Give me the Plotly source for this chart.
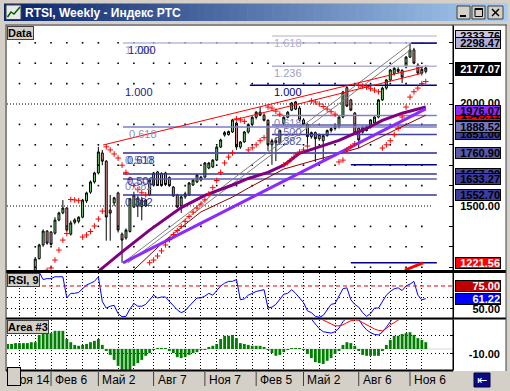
import plotly.graph_objects as go

W, H = 510, 391
def fx(px): return px / W
def fy(py): return 1 - py / H

# ---------------- data ----------------
weeks = list(range(108))
opens = [1020,1035,1050,1062,1082,1095,1110,1125,1165,1242,
 1309,1377,1372,1367,1431,1466,1490,1362,1420,1425,
 1445,1525,1568,1618,1662,1760,1720,1480,1515,1564,
 1362,1343,1375,1495,1500,1497,1500,1554,1603,1667,
 1660,1662,1640,1593,1554,1500,1545,1554,1603,1618,
 1627,1642,1686,1691,1725,1789,1848,1850,1863,1907,
 1789,1814,1863,1900,1935,1960,1945,1920,1800,1820,
 1810,1905,1935,1970,1975,1980,1922,1900,1840,1860,
 1830,1820,1845,1870,1880,1887,1936,2080,2020,1956,
 1882,1862,1870,1887,1907,1936,2020,2078,2118,2150,
 2170,2165,2181,2230,2265,2191,2152,2160]
highs = [1045,1060,1070,1090,1100,1120,1135,1165,1250,1315,
 1385,1382,1378,1445,1472,1529,1495,1428,1440,1450,
 1535,1570,1625,1668,1790,1775,1725,1554,1545,1570,
 1370,1390,1540,1570,1550,1545,1535,1630,1667,1672,
 1665,1668,1645,1598,1560,1555,1570,1618,1632,1656,
 1648,1716,1716,1730,1795,1830,1868,1870,1927,1912,
 1818,1868,1905,1940,1965,1985,1955,1925,1830,1835,
 1875,1940,1965,2010,2015,1990,1930,1905,1865,1865,
 1855,1850,1875,1885,1895,1940,2065,2092.85,2025,1960,
 1885,1890,1895,1925,1940,2025,2085,2122,2172,2180,
 2180,2170,2235,2298.47,2275,2200,2185,2190]
lows = [1010,1025,1040,1055,1070,1085,1100,1120,1160,1238,
 1300,1310,1305,1360,1425,1460,1375,1355,1410,1415,
 1440,1515,1560,1610,1655,1700,1330,1330,1500,1370,
 1221.56,1335,1370,1490,1446,1430,1495,1550,1600,1598,
 1595,1598,1595,1545,1490,1466,1535,1550,1598,1612,
 1620,1638,1680,1686,1720,1784,1840,1845,1858,1775,
 1780,1810,1855,1890,1925,1940,1915,1770,1701.8,1720,
 1800,1900,1930,1965,1970,1915,1895,1789,1830,1716,
 1820,1716,1840,1860,1870,1880,1930,1985,1965,1850,
 1784,1855,1865,1880,1900,1930,2015,2070,2110,2140,
 2150,2103,2175,2225,2195,2145,2140,2150]
closes = [1035,1050,1062,1082,1095,1110,1125,1155,1240,1309,
 1377,1318,1312,1431,1466,1490,1382,1417,1432,1445,
 1529,1564,1618,1662,1765,1720,1446,1465,1540,1382,
 1333,1382,1535,1554,1539,1530,1529,1627,1662,1600,
 1600,1605,1600,1549,1495,1545,1560,1613,1627,1652,
 1642,1711,1711,1725,1789,1824,1860,1865,1922,1789,
 1814,1863,1900,1935,1960,1945,1920,1800,1820,1810,
 1870,1935,1960,2005,2010,1922,1900,1840,1860,1830,
 1850,1845,1870,1880,1890,1936,2059,1990,1970,1858,
 1824,1887,1890,1922,1936,2020,2078,2118,2167,2175,
 2160,2132,2230,2265,2200,2152,2170,2177.07]
sar = [960,975,990,1005,1020,1040,1060,1080,1110,1140,
 1170,1185,1196,1235,1284,1333,1365,1532,1530,1526,
 1348,1358,1375,1402,1436,1475,1790,1775,1755,1735,
 1700,1665,1630,1600,1580,1565,1555,1222,1235,1255,
 1280,1309,1335,1360,1380,1400,1425,1448,1470,1490,
 1510,1530,1560,1590,1625,1665,1711,1740,1760,1927,
 1922,1915,1775,1785,1800,1820,1835,1985,1980,1965,
 1950,1702,1712,1730,1750,1765,1775,1794,2015,2010,
 2000,1988,1975,1962,1950,1716,1725,1775,1790,1805,
 2092,2088,2082,2075,2068,2060,1784,1800,1820,1850,
 1880,1936,1985,2034,2060,2078,2100,2110]
rsi = [75,75,76,77,78,79,80,82,85,90,
 82,83,83,85,85,85,62,67,67,68,
 72,76,78,80,85,58,51,53,54,45,
 41.6,42,50,56,53,53,55,60,65,62,
 63,63,58,54,49,46,48,53,58,62,
 62,64,67,65,70,75,78,80,80,82,
 60,61,65,67,69,70,71,51,52,55,
 60,66,67,71,67,62,57,48,46,42,
 41,43,49,55,56,64,72,73,60,55,
 52,46,42,45,51,51,58,65,69,72,
 73,70,75,77,80,65,60,61.22]
hist = [9,11,11,13,13,13,13,15,15,31,
 37,37,35,40,40,40,22,15,9,7,
 9,11,15,18,22,9,-4,-13,-24,-37,
 -46,-46,-46,-37,-31,-24,-15,-9,-2,1,
 1,1,-4,-9,-18,-20,-18,-13,-9,-7,
 -2,-2,4,7,11,22,29,29,31,24,
 13,11,9,7,7,7,4,-2,-9,-15,
 -13,-7,-2,2,2,1,-2,-11,-20,-29,
 -31,-33,-26,-20,-11,-4,9,15,13,7,
 -4,-13,-15,-15,-15,-15,-4,9,20,29,
 29,33,35,37,31,24,20,15]

ma_purple_weeks = [20, 24, 30, 37, 45, 51, 58, 62, 67, 71, 75, 80, 85, 88, 92, 96, 101, 107]
ma_purple_vals = [1120, 1180, 1275, 1382, 1492, 1552, 1603, 1635, 1665, 1700, 1758, 1790, 1822, 1848, 1880, 1920, 1955, 1985]
ma_darkred_weeks = [31, 33, 41, 50, 58, 62, 71, 79, 90, 100, 107]
ma_darkred_vals = [1150, 1186, 1333, 1471, 1544, 1588, 1681, 1725, 1784, 1880, 1945.11]
trend_violet_weeks = [30.24, 107]
trend_violet_vals = [1221.56, 1976.07]
fan_gray1_weeks = [30.24, 103.3]
fan_gray1_vals = [1221.56, 2298.47]
fan_gray2_weeks = [31.5, 103.3]
fan_gray2_vals = [1221.56, 2268]
red_chan1_weeks = [25.2, 106.3]
red_chan1_vals = [1799, 2181]
red_chan2_weeks = [58, 106.3]
red_chan2_vals = [1920, 2152]
red_low_weeks = [101.7, 106.3]
red_low_vals = [1186, 1221.56]

stoch_blue_weeks = list(range(76, 101))
stoch_blue = [80,72,66,55,45,38,36,35,38,46,60,70,78,75,66,52,42,36,32,31,37,48,62,72,80]
stoch_red_weeks = list(range(78, 104))
stoch_red = [80,72,68,64,60,55,51,51,53,58,62,64,63,58,53,48,44,41,40,45,53,58,64,70,76,82]

fib_low = 1221.56
fibA_high = 2092.85
fibB_high = 2298.47
fibC_low = 1701.8
fibC_high = 2092.4
fibAB_start, fibC_start, fib_end = 30.24, 68.0, 109.8
ref_lines = [(1221.56, 88.0), (1701.8, 88.0), (2298.47, 103.3)]

month_weeks = [4, 8, 12, 16, 20, 24, 29, 33, 38, 42, 46, 50, 54, 59, 63, 67, 71, 76, 80, 84, 89, 93, 98, 102, 106]
grid_prices = [1200, 1300, 1400, 1600, 1700, 1800, 1900, 2100, 2200, 2300]
date_weeks = [0, 12, 24, 38, 51, 64, 76, 90, 103]
date_labels = ["Ноя 14", "Фев 6", "Май 2", "Авг 7", "Ноя 7", "Фев 5", "Май 2", "Авг 6", "Ноя 6"]

X_RANGE = [0.836, 113.9]
Y_MAIN = [1181.4, 2382.4]
Y_RSI = [40.2, 89.1]
Y_AREA = [-46.2, 63.8]
FONT = "Liberation Sans"
PX_L, PX_R = 7, 453
def week_px(w):
    return PX_L + (w - X_RANGE[0]) * (PX_R - PX_L) / (X_RANGE[1] - X_RANGE[0])

fig = go.Figure()

def line(xs, ys, color, width=1, dash=None, ax=('x', 'y')):
    fig.add_trace(go.Scatter(x=xs, y=ys, mode='lines', line=dict(color=color, width=width, dash=dash),
                             hoverinfo='skip', xaxis=ax[0], yaxis=ax[1]))

# grid dots in price panel
gx = [m for p in grid_prices for m in month_weeks]
gy = [p for p in grid_prices for m in month_weeks]
fig.add_trace(go.Scatter(x=gx, y=gy, mode='markers', hoverinfo='skip',
                         marker=dict(symbol='square', size=1.6, color='black', line=dict(width=0))))

# fibonacci lines
fibA = [(0.382, '#34349A'), (0.5, '#34349A'), (0.618, '#34349A')]
fibB = [(0.382, '#5C5CB0'), (0.5, '#5C5CB0'), (0.618, '#7C7CC4'), (1.0, '#B8B8DC')]
fibC = [(0.382, '#40409E'), (0.5, '#5C5CB0'), (0.618, '#8080C4'), (1.0, '#000080'), (1.236, '#B4B4D0'), (1.618, '#C8C8E0')]
for r, c in fibA:
    p = fib_low + r * (fibA_high - fib_low)
    line([fibAB_start, fib_end], [p, p], c, 1.5)
for r, c in fibB:
    p = fib_low + r * (fibB_high - fib_low)
    line([fibAB_start, fib_end], [p, p], c, 1.5)
for r, c in fibC:
    p = fibC_low + r * (fibC_high - fibC_low)
    start = 62.4 if r == 1.0 else fibC_start
    line([start, fib_end], [p, p], c, 1.5)
for p, s in ref_lines:
    line([s, fib_end], [p, p], '#000080', 1.5)

# fan / channel lines
line(fan_gray1_weeks, fan_gray1_vals, '#808080', 1)
line(fan_gray2_weeks, fan_gray2_vals, '#808080', 1)

# candles
fig.add_trace(go.Candlestick(x=weeks, open=opens, high=highs, low=lows, close=closes,
    increasing=dict(fillcolor='#7EDC7E', line=dict(color='black', width=1)),
    decreasing=dict(fillcolor='#E89A9A', line=dict(color='black', width=1)),
    whiskerwidth=0, hoverinfo='skip', xaxis='x', yaxis='y'))

line(ma_darkred_weeks, ma_darkred_vals, '#8B0000', 1)
line(ma_purple_weeks, ma_purple_vals, '#800080', 3)
line(trend_violet_weeks, trend_violet_vals, '#8A2BFF', 3)
line(red_chan1_weeks, red_chan1_vals, '#FF0000', 1)
line(red_chan2_weeks, red_chan2_vals, '#FF0000', 1)
line(red_low_weeks, red_low_vals, '#FF0000', 3)

fig.add_trace(go.Scatter(x=weeks, y=sar, mode='markers', hoverinfo='skip',
                         marker=dict(symbol='cross-thin', size=4, color='#FF0000',
                                     line=dict(color='#FF0000', width=1))))

# RSI panel
line(weeks, rsi, '#0000FF', 1, ax=('x2', 'y2'))

# Area panel
fig.add_trace(go.Bar(x=weeks, y=hist, width=0.72, marker=dict(color='#008000', line=dict(width=0)),
                     hoverinfo='skip', xaxis='x3', yaxis='y3'))
line(stoch_blue_weeks, stoch_blue, '#0000FF', 1, ax=('x3', 'y3'))
line(stoch_red_weeks, stoch_red, '#FF0000', 1, ax=('x3', 'y3'))

# ---------------- layout ----------------
dom_x = [fx(PX_L), fx(PX_R)]
common_x = dict(domain=dom_x, range=X_RANGE, showticklabels=False, zeroline=False, ticks='', showline=False)
fig.update_layout(
    width=W, height=H, margin=dict(l=0, r=0, t=0, b=0),
    paper_bgcolor='#D4D0C8', plot_bgcolor='white', showlegend=False, hovermode=False,
    xaxis=dict(**common_x, anchor='y', showgrid=False, rangeslider=dict(visible=False)),
    xaxis2=dict(**common_x, anchor='y2', matches='x', showgrid=True, tickvals=month_weeks,
                gridcolor='black', gridwidth=1, griddash='1px,2px'),
    xaxis3=dict(**common_x, anchor='y3', matches='x', showgrid=True, tickvals=month_weeks,
                gridcolor='black', gridwidth=1, griddash='1px,2px'),
    yaxis=dict(domain=[fy(271), fy(26)], range=Y_MAIN, anchor='x', side='right', showgrid=False,
               zeroline=False, showticklabels=False, ticks='inside', ticklen=4, tickcolor='black',
               tickvals=list(range(1200, 2400, 100)), showline=True, linecolor='black', linewidth=1),
    yaxis2=dict(domain=[fy(318), fy(273)], range=Y_RSI, anchor='x2', side='right', zeroline=False,
                showticklabels=False, showgrid=True, tickvals=[50, 62.5], gridcolor='black',
                griddash='1px,3px', ticks='inside', ticklen=3, tickcolor='black',
                showline=True, linecolor='black'),
    yaxis3=dict(domain=[fy(370), fy(320)], range=Y_AREA, anchor='x3', side='right', zeroline=False,
                showticklabels=False, showgrid=True, tickvals=[30, -10], gridcolor='black',
                griddash='1px,3px', ticks='inside', ticklen=3, tickcolor='black',
                showline=True, linecolor='black'),
    font=dict(family=FONT, size=11, color='black'),
)

shapes = []
def prect(x0, y0, x1, y1, fill, lc=None, lw=0, layer='above'):
    shapes.append(dict(type='rect', xref='paper', yref='paper', x0=fx(x0), x1=fx(x1), y0=fy(y1), y1=fy(y0),
                       fillcolor=fill, line=dict(color=lc or fill, width=lw), layer=layer))
def pline(x0, y0, x1, y1, color, width=1, layer='above', dash=None):
    shapes.append(dict(type='line', xref='paper', yref='paper', x0=fx(x0), x1=fx(x1), y0=fy(y0), y1=fy(y1),
                       line=dict(color=color, width=width, dash=dash), layer=layer))

# right value column background
prect(453, 25, 506, 371, 'white', layer='below')

# dense dotted lines at 2000 / 1500
for p in (2000, 1500):
    shapes.append(dict(type='line', xref='x', yref='y', x0=X_RANGE[0], x1=108.5, y0=p, y1=p,
                       line=dict(color='black', width=1, dash='1px,2px'), layer='below'))
# RSI 75 line and area zero line
shapes.append(dict(type='line', xref='x2 domain', yref='y2', x0=0, x1=1, y0=75, y1=75,
                   line=dict(color='#E00000', width=1, dash='4px,3px'), layer='above'))
shapes.append(dict(type='line', xref='x3 domain', yref='y3', x0=0, x1=1, y0=0, y1=0,
                   line=dict(color='#D8D8D8', width=1), layer='below'))

# panel separators and frame
pline(5.5, 25, 507, 25, '#404040', 1)
pline(6, 271.5, 506, 271.5, 'black', 3)
pline(6, 318.5, 506, 318.5, 'black', 2)
pline(6, 370.5, 453, 370.5, 'black', 2)
pline(453, 25, 453, 371, 'black', 1)
pline(6, 25, 6, 371, '#404040', 1)
pline(506, 25, 506, 371, '#404040', 1)

# date separators
for w in date_weeks[1:]:
    shapes.append(dict(type='line', xref='x', yref='paper', x0=w, x1=w, y0=fy(386), y1=fy(372),
                       line=dict(color='#404040', width=1), layer='above'))

# title bar gradient
c0, c1 = (10, 36, 106), (166, 202, 240)
n = 60
tx0, tx1 = 4, 507
for k in range(n):
    t = k / (n - 1)
    col = 'rgb(%d,%d,%d)' % tuple(round(c0[j] + (c1[j] - c0[j]) * t) for j in range(3))
    prect(tx0 + (tx1 - tx0) * k / n, 3.5, tx0 + (tx1 - tx0) * (k + 1) / n + 0.6, 21, col)
# icon
prect(6, 5, 21, 19.5, '#E8E8E8', '#404040', 1)
shapes.append(dict(type='path', xref='paper', yref='paper',
                   path='M %f %f L %f %f L %f %f L %f %f' % (fx(7.5), fy(17), fx(11), fy(12), fx(14), fy(14), fx(20), fy(7)),
                   line=dict(color='#006000', width=1.5), layer='above'))
# window buttons
for bx0, bx1 in [(457, 470), (472, 485), (488, 503)]:
    prect(bx0, 6, bx1, 19, '#D4D0C8', '#404040', 1)
pline(460, 16, 466, 16, 'black', 2)
prect(475, 8.5, 482.5, 16.5, 'rgba(0,0,0,0)', 'black', 1)
pline(475, 9, 482.5, 9, 'black', 2)
pline(492, 9, 499, 16, 'black', 1.5)
pline(492, 16, 499, 9, 'black', 1.5)
# blue button bottom right
prect(474, 373, 490, 387, '#0A0A84', '#000040', 1)
fig.update_layout(shapes=shapes)

# ---------------- annotations ----------------
ann = []
def A(text, x, y, xref='paper', yref='paper', **kw):
    d = dict(text=text, x=x, y=y, xref=xref, yref=yref, showarrow=False)
    d.update(kw)
    ann.append(d)

A('<b>RTSI, Weekly - Индекс РТС</b>', fx(23), fy(12.5), xanchor='left', yanchor='middle',
  font=dict(family=FONT, size=12, color='white'))

# panel labels
for txt, x0, y0 in [('Data', 7, 26), ('RSI, 9', 7, 273), ('Area #3', 7, 320)]:
    A('<b>%s</b>' % txt, fx(x0), fy(y0), xanchor='left', yanchor='top', bgcolor='#D4D0C8',
      bordercolor='#404040', borderwidth=1, borderpad=0, font=dict(family=FONT, size=11, color='black'))

# fib labels (left tools)
def fl(text, x, p, color, xs=0):
    A(text, x, p, xref='x', yref='y', xanchor='left', yanchor='middle', yshift=-7, xshift=xs,
      font=dict(family=FONT, size=11, color=color))
fl('1.236', fibAB_start, fibB_high, '#A8A8CC', 0)
fl('1.000', fibAB_start, fibB_high, '#20208C', 3)
fl('1.000', fibAB_start, fibA_high, '#20208C', 0)
fl('0.618', fibAB_start + 1, fib_low + 0.618 * (fibB_high - fib_low), '#9090C0', 0)
fl('0.500', fibAB_start, fib_low + 0.5 * (fibB_high - fib_low), '#8080BC', 0)
fl('0.618', fibAB_start, fib_low + 0.618 * (fibA_high - fib_low), '#30309A', 2)
fl('0.382', fibAB_start, fib_low + 0.382 * (fibB_high - fib_low), '#8080BC', 0)
fl('0.500', fibAB_start, fib_low + 0.5 * (fibA_high - fib_low), '#30309A', 2)
fl('0.382', fibAB_start, fib_low + 0.382 * (fibA_high - fib_low), '#30309A', 0)
# fib labels (right tool)
for r, col in [(1.618, '#B0B0CC'), (1.236, '#A0A0C4'), (1.0, '#000080'), (0.618, '#8484C0'),
               (0.5, '#6C6CB4'), (0.382, '#5050A8')]:
    fl('%.3f' % r, fibC_start, fibC_low + r * (fibC_high - fibC_low), col, 0)

# right value labels (draw order matters)
def rl(text, yv, yref, bg=None, fg='black', h=10, ys=0):
    kw = dict(xanchor='left', yanchor='middle', align='right', width=44, height=h, borderpad=0,
              yshift=ys, font=dict(family=FONT, size=11, color=fg))
    if bg:
        kw.update(bgcolor=bg, bordercolor='black', borderwidth=1)
    A('<b>%s</b>' % text, fx(455), yv, yref=yref, **kw)

rl('2333.76', 2333.76, 'y', '#C8C8E6')
rl('2298.47', 2298.47, 'y', '#B0B0DA')
rl('2177.07', 2170.0, 'y', 'black', 'white', h=12)
rl('2000.00', 2000, 'y', ys=1)
rl('1945.11', 1945.11, 'y', '#FF0000')
rl('1976.07', 1976.07, 'y', '#8A2BFF', h=9, ys=-1.5)
rl('1851.00', 1851.00, 'y', '#3C3CA0')
rl('1888.52', 1888.52, 'y', '#7878C0')
rl('1760.90', 1760.90, 'y', '#5858AC')
rl('1657.20', 1657.20, 'y', '#4848A4')
rl('1633.27', 1633.27, 'y', '#3C3CA0')
rl('1552.70', 1552.70, 'y', '#3C3CA0')
rl('1500.00', 1500, 'y')
rl('1221.56', 1221.56, 'y', '#FF0000', 'white')
rl('75.00', 75, 'y2', '#C00000', 'white')
rl('61.22', 61.22, 'y2', '#0000FF', 'white')
rl('50.00', 50, 'y2')
rl('-10.00', -12, 'y3')

# date labels (paper coordinates so the first, partly hidden one is still drawn)
for i, (w, t) in enumerate(zip(date_weeks, date_labels)):
    xp = 9 if i == 0 else week_px(w) + 2
    A(t, fx(xp), fy(379.5), xanchor='left', yanchor='middle',
      font=dict(family=FONT, size=12, color='black'))
# small box bottom-left (covers start of first date)
A(' ', fx(7), fy(367), xanchor='left', yanchor='top', width=12, height=17, bgcolor='#D4D0C8',
  bordercolor='black', borderwidth=1, borderpad=0)
A('⇤', fx(482), fy(380), xanchor='center', yanchor='middle',
  font=dict(family='DejaVu Sans', size=12, color='white'))

fig.update_layout(annotations=ann)
fig.write_html("out.html", config={'displayModeBar': False},
               post_script="document.body.style.margin='0';document.body.style.overflow='hidden';")
